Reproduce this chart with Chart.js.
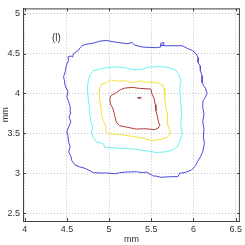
<!DOCTYPE html>
<html>
<head>
<meta charset="utf-8">
<script src="https://cdn.jsdelivr.net/npm/chart.js@4"></script>
<style>
  body { margin: 0; background: #fff; }
</style>
</head>
<body>
<canvas id="contourChart" width="245" height="245"></canvas>
<script>
// axis ticks
const xTicks = [4, 4.5, 5, 5.5, 6, 6.5];
const yTicks = [2.5, 3, 3.5, 4, 4.5, 5];

// contour lines, [x, y] in mm
const blueContour = [
  [4.520, 4.415], [4.512, 4.457], [4.547, 4.469], [4.570, 4.457], [4.578, 4.498],
  [4.609, 4.523], [4.637, 4.540], [4.656, 4.573], [4.676, 4.594], [4.715, 4.614],
  [4.773, 4.623], [4.832, 4.635], [4.891, 4.656], [4.969, 4.664], [5.047, 4.648],
  [5.125, 4.635], [5.223, 4.623], [5.273, 4.639], [5.301, 4.606], [5.398, 4.581],
  [5.555, 4.573], [5.605, 4.581], [5.613, 4.631], [5.652, 4.635], [5.645, 4.606],
  [5.605, 4.602], [5.672, 4.598], [5.867, 4.598], [5.926, 4.565], [5.984, 4.540],
  [6.031, 4.498], [6.055, 4.449], [6.055, 4.386], [6.078, 4.345], [6.082, 4.283],
  [6.102, 4.221], [6.102, 4.138], [6.121, 4.096], [6.141, 4.067], [6.160, 4.001],
  [6.141, 3.951], [6.113, 3.910], [6.109, 3.827], [6.125, 3.744], [6.109, 3.640],
  [6.125, 3.557], [6.117, 3.454], [6.129, 3.371], [6.109, 3.267], [6.082, 3.205],
  [6.051, 3.151], [6.023, 3.093], [5.977, 3.039], [5.906, 3.010], [5.836, 2.998],
  [5.816, 2.956], [5.730, 2.956], [5.613, 2.948], [5.555, 2.964], [5.523, 2.964],
  [5.445, 3.014], [5.398, 3.006], [5.320, 3.018], [5.203, 3.014], [5.125, 3.006],
  [5.078, 2.993], [4.969, 3.002], [4.891, 3.002], [4.813, 3.006], [4.773, 3.031],
  [4.715, 3.060], [4.648, 3.080], [4.598, 3.101], [4.559, 3.155], [4.547, 3.213],
  [4.520, 3.267], [4.539, 3.329], [4.520, 3.391], [4.512, 3.474], [4.500, 3.516],
  [4.520, 3.578], [4.547, 3.640], [4.527, 3.702], [4.547, 3.765], [4.539, 3.835],
  [4.520, 3.901], [4.500, 3.951], [4.512, 4.026], [4.480, 4.096], [4.469, 4.167],
  [4.461, 4.208], [4.480, 4.274], [4.492, 4.345], [4.520, 4.415]
];
const cyanContour = [
  [4.742, 4.055], [4.754, 4.158], [4.773, 4.233], [4.813, 4.283], [4.891, 4.308],
  [4.988, 4.324], [5.086, 4.333], [5.203, 4.320], [5.281, 4.299], [5.379, 4.299],
  [5.457, 4.328], [5.594, 4.337], [5.711, 4.324], [5.789, 4.291], [5.828, 4.233],
  [5.852, 4.158], [5.836, 4.067], [5.848, 3.910], [5.859, 3.744], [5.848, 3.619],
  [5.867, 3.495], [5.840, 3.404], [5.809, 3.329], [5.750, 3.288], [5.672, 3.267],
  [5.555, 3.259], [5.496, 3.271], [5.398, 3.288], [5.281, 3.304], [5.164, 3.308],
  [5.047, 3.317], [4.949, 3.325], [4.930, 3.371], [4.852, 3.391], [4.813, 3.445],
  [4.793, 3.503], [4.805, 3.578], [4.781, 3.661], [4.773, 3.744], [4.766, 3.835],
  [4.754, 3.930], [4.742, 4.055]
];
const yellowContour = [
  [4.891, 4.067], [4.910, 4.117], [4.969, 4.133], [5.027, 4.171], [5.086, 4.154],
  [5.203, 4.158], [5.281, 4.133], [5.359, 4.158], [5.438, 4.142], [5.555, 4.138],
  [5.633, 4.109], [5.652, 4.067], [5.660, 3.951], [5.672, 3.827], [5.695, 3.723],
  [5.691, 3.619], [5.711, 3.557], [5.730, 3.495], [5.691, 3.454], [5.633, 3.429],
  [5.555, 3.412], [5.496, 3.412], [5.398, 3.441], [5.320, 3.454], [5.203, 3.474],
  [5.086, 3.487], [4.988, 3.495], [4.961, 3.536], [4.961, 3.599], [4.930, 3.661],
  [4.910, 3.744], [4.902, 3.827], [4.891, 3.910], [4.883, 3.993], [4.891, 4.067]
];
const redContour = [
  [5.008, 3.943], [5.027, 3.976], [5.086, 4.009], [5.133, 4.046], [5.184, 4.067],
  [5.281, 4.075], [5.359, 4.063], [5.496, 4.055], [5.508, 3.993], [5.535, 3.930],
  [5.547, 3.860], [5.555, 3.785], [5.574, 3.702], [5.586, 3.640], [5.602, 3.599],
  [5.578, 3.561], [5.535, 3.545], [5.438, 3.557], [5.320, 3.553], [5.203, 3.578],
  [5.125, 3.595], [5.086, 3.640], [5.066, 3.723], [5.047, 3.806], [5.016, 3.868],
  [5.008, 3.943]
];
const redSpot = [
  [5.340, 3.950], [5.375, 3.950], [5.375, 3.940], [5.340, 3.940], [5.340, 3.950]
];

const panelLabel = "(l)";

function toPoints(arr) {
  return arr.map((p) => ({ x: p[0], y: p[1] }));
}

function contourSet(arr, color) {
  return {
    data: toPoints(arr),
    showLine: true,
    borderColor: color,
    borderWidth: 1,
    pointRadius: 0,
    tension: 0,
    fill: false,
  };
}

// box + inward ticks + panel label
const framePlugin = {
  id: "frame",
  afterDatasetsDraw(chart) {
    const { ctx, chartArea: a, scales } = chart;
    const x = scales.x, y = scales.y;
    ctx.save();
    ctx.strokeStyle = "#444";
    ctx.lineWidth = 1;
    ctx.beginPath();
    ctx.moveTo(a.left, a.top + 0.5);
    ctx.lineTo(a.right, a.top + 0.5);
    ctx.moveTo(a.right - 0.5, a.top);
    ctx.lineTo(a.right - 0.5, a.bottom);
    xTicks.forEach((v) => {
      const px = Math.round(x.getPixelForValue(v)) + 0.5;
      ctx.moveTo(px, a.bottom);
      ctx.lineTo(px, a.bottom - 3);
      ctx.moveTo(px, a.top);
      ctx.lineTo(px, a.top + 3);
    });
    yTicks.forEach((v) => {
      const py = Math.round(y.getPixelForValue(v)) + 0.5;
      ctx.moveTo(a.left, py);
      ctx.lineTo(a.left + 3, py);
      ctx.moveTo(a.right, py);
      ctx.lineTo(a.right - 3, py);
    });
    ctx.stroke();
    ctx.fillStyle = "#333";
    ctx.font = "10px 'Liberation Sans', Arial, sans-serif";
    ctx.textAlign = "center";
    ctx.textBaseline = "middle";
    ctx.fillText(panelLabel, x.getPixelForValue(4.375), y.getPixelForValue(4.69));
    ctx.restore();
  },
};

const tickFont = { family: "'Liberation Sans', Arial, sans-serif", size: 9 };

new Chart(document.getElementById("contourChart"), {
  type: "scatter",
  data: {
    datasets: [
      contourSet(blueContour, "#4b4bdc"),
      contourSet(cyanContour, "#6ff0f0"),
      contourSet(yellowContour, "#f5e23c"),
      contourSet(redContour, "#b03c3c"),
      contourSet(redSpot, "#b03c3c"),
    ],
  },
  options: {
    responsive: false,
    animation: false,
    devicePixelRatio: 1,
    layout: { padding: { top: 7, right: 3, left: 0, bottom: 0 } },
    plugins: {
      legend: { display: false },
      tooltip: { enabled: false },
    },
    scales: {
      x: {
        type: "linear",
        position: "bottom",
        min: 3.98,
        max: 6.55,
        afterBuildTicks: (s) => { s.ticks = xTicks.map((v) => ({ value: v })); },
        afterFit: (s) => { s.height = 24; },
        ticks: { font: tickFont, color: "#333", padding: 3, maxRotation: 0, autoSkip: false,
          callback: (v) => String(v) },
        grid: { color: "#c4c4c4", drawTicks: false },
        border: { color: "#444", dash: [1, 2] },
        title: { display: true, text: "mm", font: tickFont, color: "#333", padding: 0 },
      },
      y: {
        type: "linear",
        min: 2.4,
        max: 5.066,
        afterBuildTicks: (s) => { s.ticks = yTicks.map((v) => ({ value: v })); },
        afterFit: (s) => { s.width = 23; },
        ticks: { font: tickFont, color: "#333", padding: 3, autoSkip: false,
          callback: (v) => String(v) },
        grid: { color: "#c4c4c4", drawTicks: false },
        border: { color: "#444", dash: [1, 2] },
        title: { display: true, text: "mm", font: tickFont, color: "#333", padding: 0 },
      },
    },
  },
  plugins: [framePlugin],
});
</script>
</body>
</html>
